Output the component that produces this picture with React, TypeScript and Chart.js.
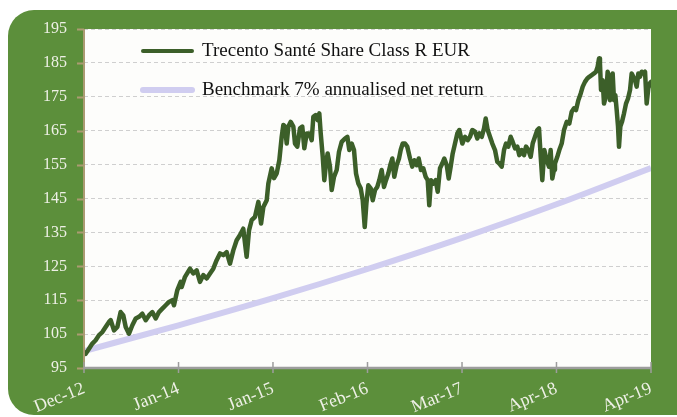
import React, { useEffect, useRef } from "react";
import { Chart, registerables } from "chart.js";

Chart.register(...registerables);

const xTickLabels = ["Dec-12", "Jan-14", "Jan-15", "Feb-16", "Mar-17", "Apr-18", "Apr-19"];
const xTickMonths = [0, 12.67, 25.33, 38, 50.67, 63.33, 76];

const fundLabel = "Trecento Santé Share Class R EUR";
const benchLabel = "Benchmark 7% annualised net return";

const fundMonths = [
  0, 0.22, 0.67, 1.12, 1.56, 2.01, 2.46, 2.9, 3.35, 3.58, 4.02, 4.47, 4.91, 5.27, 5.59, 6.03, 6.48, 6.93, 7.37, 7.82,
  8.27, 8.71, 9.16, 9.61, 10.05, 10.5, 10.95, 11.39, 11.84, 12.06, 12.51, 12.96, 13.09, 13.54, 14.21, 14.65, 15.1,
  15.55, 15.99, 16.44, 16.89, 17.33, 17.78, 18.23, 18.67, 19.12, 19.57, 20.01, 20.46, 20.91, 21.35, 21.8, 22.12,
  22.47, 22.92, 23.37, 23.73, 24.04, 24.49, 24.71, 25.16, 25.47, 25.83, 26.18, 26.5, 26.72, 26.94, 27.17, 27.39,
  27.71, 28.06, 28.28, 28.59, 28.95, 29.26, 29.53, 29.85, 30.2, 30.52, 30.74, 31.05, 31.32, 31.54, 31.73, 32.0,
  32.21, 32.44, 32.66, 32.97, 33.2, 33.51, 33.87, 34.18, 34.54, 34.98, 35.3, 35.56, 35.88, 36.19, 36.46, 36.77,
  37.09, 37.36, 37.63, 37.85, 38.11, 38.43, 38.7, 39.01, 39.31, 39.58, 39.9, 40.21, 40.48, 40.79, 41.11, 41.33,
  41.59, 41.91, 42.22, 42.45, 42.71, 43.03, 43.33, 43.7, 44.0, 44.27, 44.6, 44.86, 45.17, 45.48, 45.8, 46.07,
  46.28, 46.51, 46.82, 47.14, 47.41, 47.72, 48.02, 48.29, 48.62, 48.88, 49.15, 49.42, 49.73, 50.04, 50.31, 50.71,
  51.07, 51.43, 51.74, 52.05, 52.41, 52.72, 52.99, 53.31, 53.62, 53.84, 54.11, 54.42, 54.73, 55.09, 55.4, 55.67,
  55.99, 56.3, 56.56, 56.87, 57.19, 57.46, 57.77, 58.08, 58.35, 58.67, 58.98, 59.25, 59.56, 59.87, 60.14, 60.45,
  60.76, 60.99, 61.22, 61.43, 61.7, 62.02, 62.33, 62.55, 62.77, 63.0, 63.13, 63.44, 63.71, 64.03, 64.34, 64.7,
  65.05, 65.37, 65.68, 65.95, 66.26, 66.58, 66.85, 67.15, 67.46, 67.73, 68.05, 68.36, 68.63, 68.85, 69.03, 69.16,
  69.3, 69.52, 69.7, 69.88, 70.06, 70.19, 70.37, 70.5, 70.68, 70.86, 71.04, 71.22, 71.4, 71.58, 71.71, 71.89,
  72.11, 72.38, 72.65, 72.92, 73.19, 73.41, 73.63, 73.85, 74.08, 74.3, 74.52, 74.75, 74.97, 75.2, 75.42, 75.64,
  75.86, 76.0,
];

const fundValues = [
  99.6, 99.2, 100.7, 102.2, 103.2, 104.7, 105.6, 107.1, 108.6, 109.1, 106.1, 107.1, 111.5, 110.5, 107.1, 105.1,
  107.6, 109.6, 110.1, 111.0, 109.1, 110.5, 111.5, 109.6, 111.5, 112.5, 113.5, 114.5, 115.0, 113.5, 118.0, 120.4,
  118.9, 121.9, 124.3, 122.9, 123.8, 120.4, 122.4, 121.4, 122.9, 124.3, 126.8, 128.8, 128.3, 129.2, 125.8, 129.7,
  132.7, 134.2, 136.1, 127.8, 135.6, 138.6, 139.6, 144.0, 137.6, 142.5, 144.5, 149.4, 153.9, 151.0, 152.4, 156.3,
  163.2, 166.7, 166.2, 161.2, 166.2, 167.6, 166.2, 161.2, 160.3, 165.7, 166.2, 159.8, 164.2, 164.2, 162.2, 169.1,
  169.6, 168.1, 170.1, 164.2, 157.3, 150.4, 155.3, 158.3, 154.4, 147.5, 151.4, 153.4, 158.8, 161.7, 162.7, 163.2,
  159.3, 161.2, 159.3, 152.4, 149.4, 148.0, 144.5, 136.6, 143.5, 148.9, 148.0, 144.5, 147.5, 148.4, 150.4, 153.4,
  148.4, 150.4, 152.4, 155.3, 156.8, 151.4, 154.8, 156.8, 159.3, 161.2, 161.2, 160.3, 156.8, 154.4, 156.3, 154.8,
  156.8, 153.4, 153.9, 151.4, 150.4, 143.0, 150.4, 149.4, 150.4, 147.0, 153.9, 155.3, 156.8, 154.8, 150.9, 154.4,
  158.3, 161.2, 164.2, 165.2, 161.2, 163.2, 162.2, 163.2, 165.2, 164.7, 162.7, 164.2, 163.2, 165.7, 168.6, 165.2,
  163.2, 161.2, 159.3, 155.8, 155.3, 154.4, 159.3, 161.2, 160.3, 163.2, 161.7, 159.8, 160.3, 157.8, 159.3, 157.8,
  160.3, 159.3, 157.3, 161.2, 163.2, 165.2, 165.7, 157.3, 150.4, 159.3, 156.3, 154.4, 159.3, 150.9, 153.5, 155.3,
  157.3, 159.3, 161.2, 165.2, 167.6, 167.1, 170.6, 171.6, 171.1, 174.0, 176.0, 178.0, 179.4, 180.4, 180.9, 181.4,
  181.9, 182.4, 183.9, 186.3, 184.9, 177.0, 179.9, 173.0, 174.5, 178.0, 182.4, 180.9, 174.0, 176.0, 181.9, 174.0,
  175.5, 171.1, 166.2, 160.3, 166.2, 167.6, 170.1, 173.0, 174.5, 177.0, 181.9, 180.9, 179.9, 178.0, 181.9, 180.9,
  182.4, 181.9, 182.4, 173.0, 177.5, 179.0, 179.4,
];

const benchMonths = [0, 12.67, 25.33, 38, 50.67, 63.33, 76];
const benchValues = [100, 107.6, 115.6, 124.2, 133.4, 143.3, 154.0];

const FUND_COLOR = "#3c5f29";
const BENCH_COLOR = "#d0cdf0";
const PANEL_GREEN = "#5c8f3b";
const LABEL_COLOR = "#eef0e6";
const FONT = "'Liberation Serif', 'Times New Roman', serif";

const decorPlugin = {
  id: "decor",
  beforeDraw(chart: any) {
    const { ctx, chartArea, width, height } = chart;
    ctx.save();
    ctx.fillStyle = "#ffffff";
    ctx.fillRect(0, 0, width, height);
    const x0 = 8, y0 = 10, x1 = width + 30, y1 = 415, r = 26;
    ctx.fillStyle = PANEL_GREEN;
    ctx.beginPath();
    ctx.moveTo(x0 + r, y0);
    ctx.lineTo(x1, y0);
    ctx.lineTo(x1, y1);
    ctx.lineTo(x0 + r, y1);
    ctx.arcTo(x0, y1, x0, y1 - r, r);
    ctx.lineTo(x0, y0 + r);
    ctx.arcTo(x0, y0, x0 + r, y0, r);
    ctx.closePath();
    ctx.fill();
    ctx.fillStyle = "#fdfdfb";
    ctx.fillRect(chartArea.left, chartArea.top, chartArea.right - chartArea.left, chartArea.bottom - chartArea.top);
    ctx.restore();
  },
  afterDraw(chart: any) {
    const { ctx, chartArea, scales } = chart;
    const xs = scales.x, ys = scales.y;
    ctx.save();
    ctx.strokeStyle = "#ab9b72";
    ctx.lineWidth = 2;
    ctx.beginPath();
    ctx.moveTo(chartArea.left, chartArea.top);
    ctx.lineTo(chartArea.left, chartArea.bottom);
    ys.ticks.forEach((t: any) => {
      const py = Math.round(ys.getPixelForValue(t.value)) + 0.5;
      ctx.moveTo(chartArea.left - 7, py);
      ctx.lineTo(chartArea.left, py);
    });
    ctx.stroke();
    ctx.strokeStyle = "#9d9d9d";
    ctx.lineWidth = 2.5;
    ctx.beginPath();
    ctx.moveTo(chartArea.left, chartArea.bottom);
    ctx.lineTo(chartArea.right, chartArea.bottom);
    ctx.stroke();
    ctx.lineWidth = 1.5;
    ctx.beginPath();
    xs.ticks.forEach((t: any) => {
      const px = xs.getPixelForValue(t.value);
      ctx.moveTo(px, chartArea.bottom - 6);
      ctx.lineTo(px, chartArea.bottom + 5);
    });
    ctx.stroke();
    const items = [
      { label: chart.data.datasets[0].label, color: FUND_COLOR, w: 4, y: 51 },
      { label: chart.data.datasets[1].label, color: BENCH_COLOR, w: 6, y: 90 },
    ];
    ctx.font = `19px ${FONT}`;
    ctx.textBaseline = "middle";
    ctx.textAlign = "left";
    items.forEach((it) => {
      ctx.strokeStyle = it.color;
      ctx.lineWidth = it.w;
      ctx.lineCap = "round";
      ctx.beginPath();
      ctx.moveTo(143, it.y);
      ctx.lineTo(192, it.y);
      ctx.stroke();
      ctx.fillStyle = "#111111";
      ctx.fillText(it.label, 202, it.y);
    });
    ctx.restore();
  },
};

export default function App() {
  const canvasRef = useRef<HTMLCanvasElement | null>(null);

  useEffect(() => {
    if (!canvasRef.current) return;
    const fundData = fundMonths.map((m, i) => ({ x: m, y: fundValues[i] }));
    const benchData = benchMonths.map((m, i) => ({ x: m, y: benchValues[i] }));
    const chart = new Chart(canvasRef.current, {
      type: "line",
      data: {
        datasets: [
          {
            label: fundLabel,
            data: fundData,
            borderColor: FUND_COLOR,
            borderWidth: 4.5,
            pointRadius: 0,
            tension: 0,
            borderJoinStyle: "round",
            borderCapStyle: "round",
            order: 1,
          },
          {
            label: benchLabel,
            data: benchData,
            borderColor: BENCH_COLOR,
            borderWidth: 6,
            pointRadius: 0,
            cubicInterpolationMode: "monotone",
            borderCapStyle: "butt",
            order: 2,
          },
        ],
      },
      options: {
        animation: false,
        responsive: false,
        devicePixelRatio: 1,
        layout: { padding: { left: 0, right: 26, top: 29, bottom: 0 } },
        plugins: { legend: { display: false }, tooltip: { enabled: false } },
        scales: {
          x: {
            type: "linear",
            min: 0,
            max: 76,
            afterBuildTicks: (axis: any) => {
              axis.ticks = xTickMonths.map((v) => ({ value: v }));
            },
            afterFit: (axis: any) => {
              axis.height = 49;
            },
            ticks: {
              autoSkip: false,
              minRotation: 22,
              maxRotation: 22,
              padding: 10,
              color: LABEL_COLOR,
              font: { family: FONT, size: 18 },
              callback: (_v: any, i: number) => xTickLabels[i],
            },
            grid: { display: false, drawTicks: false },
            border: { display: false },
          },
          y: {
            min: 95,
            max: 195,
            afterFit: (axis: any) => {
              axis.width = 84;
            },
            ticks: {
              stepSize: 10,
              padding: 17,
              color: LABEL_COLOR,
              font: { family: FONT, size: 16 },
            },
            grid: { color: "#cfcfcf", lineWidth: 1, drawTicks: false },
            border: { display: false, dash: [4, 3] },
          },
        },
      },
      plugins: [decorPlugin],
    } as any);
    return () => chart.destroy();
  }, []);

  return (
    <div style={{ position: "fixed", left: 0, top: 0, width: 677, height: 417 }}>
      <canvas ref={canvasRef} width={677} height={417} style={{ width: 677, height: 417, display: "block" }} />
    </div>
  );
}
